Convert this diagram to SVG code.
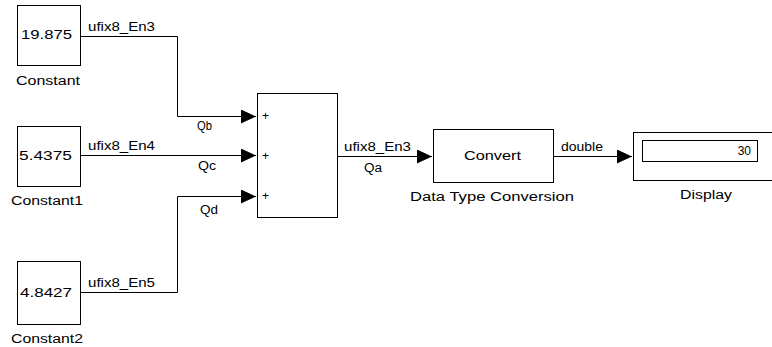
<svg xmlns="http://www.w3.org/2000/svg" width="772" height="347" viewBox="0 0 772 347">
<defs>
<style>
.blk{fill:#fff;stroke:#000;stroke-width:1}
.ln{fill:none;stroke:#000;stroke-width:1}
text{font-family:"Liberation Sans",Arial,sans-serif;font-size:12px;fill:#000}
.c{text-anchor:middle}
</style>
<marker id="ah" markerUnits="userSpaceOnUse" markerWidth="16" markerHeight="14" viewBox="0 0 16 14" refX="15" refY="7" orient="auto">
<path d="M0,0 L15,7 L0,14 Z" fill="#000"/>
</marker>
</defs>
<rect width="772" height="347" fill="#fff"/>
<g id="connectors">
<path class="ln" d="M81 36.5 H177.5 V116.5 H256" marker-end="url(#ah)"/>
<path class="ln" d="M81 155.5 H256" marker-end="url(#ah)"/>
<path class="ln" d="M81 292.5 H177.5 V196.5 H256" marker-end="url(#ah)"/>
<path class="ln" d="M338 156.5 H432" marker-end="url(#ah)"/>
<path class="ln" d="M554 156.5 H632" marker-end="url(#ah)"/>
<text x="88" y="31" textLength="67" lengthAdjust="spacingAndGlyphs">ufix8_En3</text>
<text x="88" y="150" textLength="67" lengthAdjust="spacingAndGlyphs">ufix8_En4</text>
<text x="88" y="287" textLength="67" lengthAdjust="spacingAndGlyphs">ufix8_En5</text>
<text x="197" y="130" textLength="15" lengthAdjust="spacingAndGlyphs">Qb</text>
<text x="198" y="170" textLength="18" lengthAdjust="spacingAndGlyphs">Qc</text>
<text x="200" y="214" textLength="18" lengthAdjust="spacingAndGlyphs">Qd</text>
<text x="344" y="151" textLength="67" lengthAdjust="spacingAndGlyphs">ufix8_En3</text>
<text x="364" y="172" textLength="18" lengthAdjust="spacingAndGlyphs">Qa</text>
<text x="561" y="151" textLength="42" lengthAdjust="spacingAndGlyphs">double</text>
</g>
<g id="constant">
<rect class="blk" x="17.5" y="5.5" width="63" height="60"/>
<text x="21" y="39" textLength="51" lengthAdjust="spacingAndGlyphs">19.875</text>
<text x="16" y="85" textLength="64" lengthAdjust="spacingAndGlyphs">Constant</text>
</g>
<g id="constant1">
<rect class="blk" x="17.5" y="126.5" width="63" height="60"/>
<text x="19" y="160" textLength="53" lengthAdjust="spacingAndGlyphs">5.4375</text>
<text x="11" y="205" textLength="72" lengthAdjust="spacingAndGlyphs">Constant1</text>
</g>
<g id="constant2">
<rect class="blk" x="17.5" y="261.5" width="63" height="63"/>
<text x="20" y="297" textLength="52" lengthAdjust="spacingAndGlyphs">4.8427</text>
<text x="11" y="343" textLength="72" lengthAdjust="spacingAndGlyphs">Constant2</text>
</g>
<g id="sum">
<rect class="blk" x="257.5" y="93.5" width="80" height="124"/>
<text x="262" y="120" font-size="12">+</text>
<text x="262" y="160" font-size="12">+</text>
<text x="262" y="200" font-size="12">+</text>
</g>
<g id="convert">
<rect class="blk" x="433.5" y="129.5" width="120" height="53"/>
<text x="464" y="160" textLength="57" lengthAdjust="spacingAndGlyphs">Convert</text>
<text x="410" y="201" textLength="164" lengthAdjust="spacingAndGlyphs">Data Type Conversion</text>
</g>
<g id="display">
<rect class="blk" x="633.5" y="132.5" width="146" height="48"/>
<rect class="blk" x="642.5" y="140.5" width="115" height="21"/>
<text x="751" y="154.5" text-anchor="end" font-size="14">30</text>
<text x="680" y="199" textLength="52" lengthAdjust="spacingAndGlyphs">Display</text>
</g>
</svg>
